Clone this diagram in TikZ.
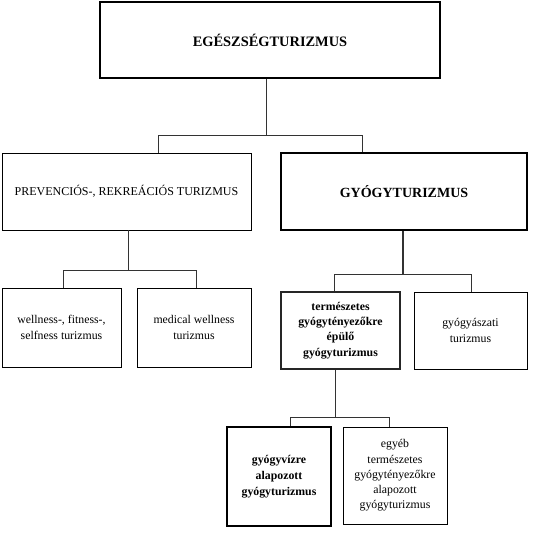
\documentclass[tikz,border=0pt]{standalone}
\usepackage{fontspec}
\setmainfont{Liberation Serif}
\usepackage{tikz}
\usetikzlibrary{positioning}
\usetikzlibrary{calc}
\tikzstyle{block} = [draw, rectangle, inner sep=0pt, align=center, line width=0.8pt, font=\fontsize{11.8}{15.3}\selectfont]
\tikzstyle{mainblock} = [block, line width=2pt, font=\fontsize{14.4}{17}\selectfont\bfseries]
\tikzstyle{heavyblock} = [block, line width=2.6pt, draw=black!85, font=\fontsize{11.8}{15.3}\selectfont\bfseries]
\tikzstyle{link} = [draw, line width=0.8pt, black!80]

\begin{document}
\begin{tikzpicture}[x=1pt, y=-1pt]
\useasboundingbox (0,0) rectangle (533,537);
% Blocks
\node [mainblock, minimum width=340, minimum height=76] (health) at (270,40) {EGÉSZSÉGTURIZMUS};
\node [block, minimum width=249, minimum height=77, font=\fontsize{12}{14}\selectfont] (prevention) at (126.5,191.5) {PREVENCIÓS-, REKREÁCIÓS TURIZMUS};
\node [mainblock, minimum width=246, minimum height=77, font=\fontsize{14}{17}\selectfont\bfseries] (medical) at (404,191.5) {GYÓGYTURIZMUS};
\node [block, minimum width=119, minimum height=79] (wellness) at (61.5,327.5) {wellness-, fitness-,\\selfness turizmus};
\node [block, minimum width=114, minimum height=79] (medwell) at (194,327.5) {medical wellness\\turizmus};
\node [heavyblock, minimum width=119, minimum height=77] (natural) at (340.5,330.5) {természetes\\gyógytényezőkre\\épülő\\gyógyturizmus};
\node [block, minimum width=113, minimum height=77] (therapy) at (470.5,330.5) {gyógyászati\\turizmus};
\node [mainblock, minimum width=104, minimum height=99, font=\fontsize{11.8}{15.8}\selectfont\bfseries] (water) at (279,476.5) {gyógyvízre\\alapozott\\gyógyturizmus};
\node [block, minimum width=104, minimum height=97] (other) at (395,475.5) {egyéb\\természetes\\gyógytényezőkre\\alapozott\\gyógyturizmus};

% Branch points
\coordinate (top) at (266,135);
\coordinate (topl) at (158,135);
\coordinate (topr) at (362,135);
\coordinate (prev) at (128,270);
\coordinate (prevl) at (63,270);
\coordinate (prevr) at (196,270);
\coordinate (med) at (403,274);
\coordinate (medl) at (334,274);
\coordinate (medr) at (471,274);
\coordinate (nat) at (335,417);
\coordinate (natl) at (290,417);
\coordinate (natr) at (389,417);

% Connectors
\draw [link, line width=1pt] (health.south -| top) -- (top);
\draw [link] (prevention.north -| topl) -- (topl) -- (topr) -- (medical.north -| topr);
\draw [link] (prevention.south -| prev) -- (prev);
\draw [link] (wellness.north -| prevl) -- (prevl) -- (prevr) -- (medwell.north -| prevr);
\draw [link, line width=1.5pt] (medical.south -| med) -- (med);
\draw [link] (natural.north -| medl) -- (medl) -- (medr) -- (therapy.north -| medr);
\draw [link] (natural.south -| nat) -- (nat);
\draw [link] (water.north -| natl) -- (natl) -- (natr) -- (other.north -| natr);
\end{tikzpicture}
\end{document}
